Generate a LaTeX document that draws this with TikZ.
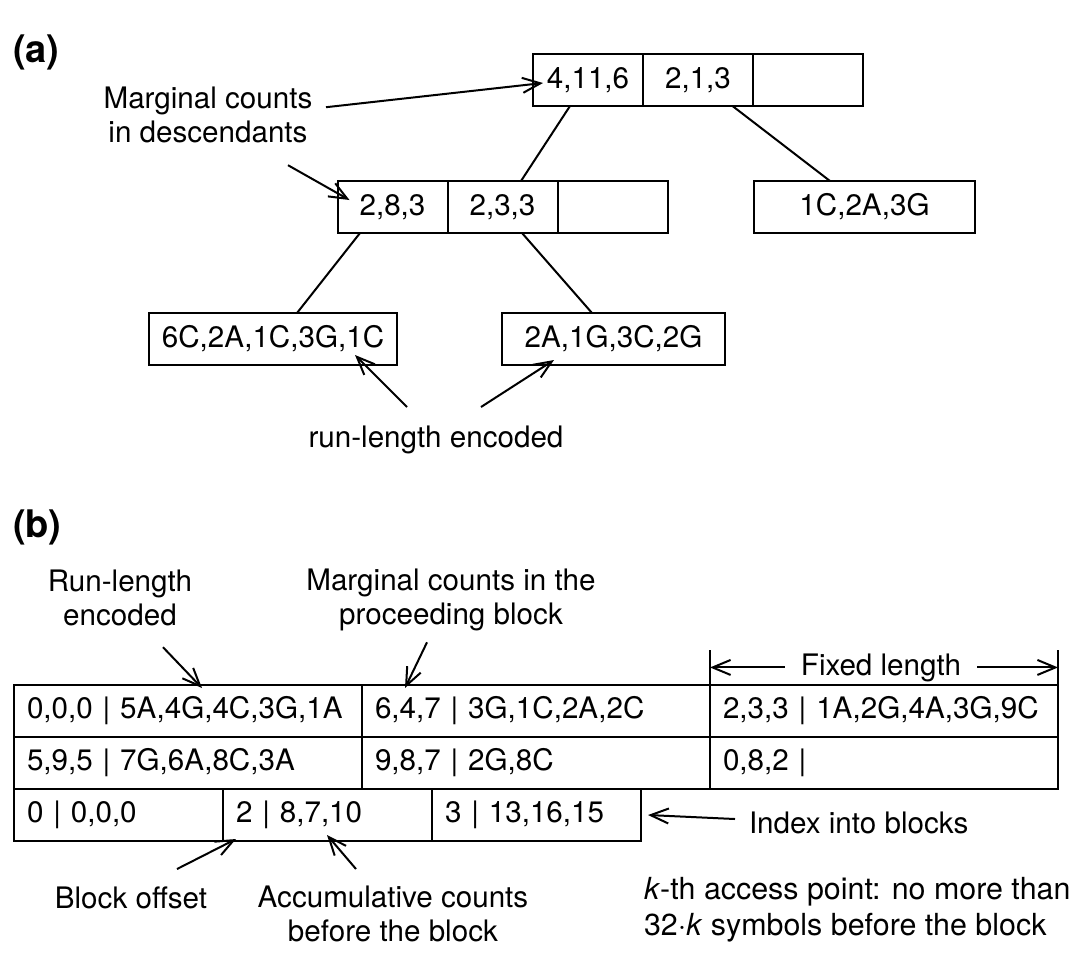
\documentclass[tikz,border=0pt]{standalone}
\usepackage{fontspec}
\setmainfont{TeX Gyre Heros}
\usetikzlibrary{arrows.meta,positioning}

\begin{document}
\begin{tikzpicture}[
    x=0.5pt, y=-0.5pt,
    line width=1pt,
    every node/.style={font=\fontsize{14.8}{17}\selectfont},
    tcell/.style={draw, minimum width=55pt, minimum height=26pt, inner sep=0pt, outer sep=0pt},
    rowcell/.style={draw, anchor=north west, minimum height=26pt, inner xsep=6.5pt, inner ysep=0pt, outer sep=0pt, align=left},
    wide/.style={rowcell, text width=161pt},
    narrow/.style={rowcell, text width=91.5pt},
    lbl/.style={inner sep=0pt, align=center},
    panel/.style={inner sep=0pt, anchor=base west, font=\fontsize{19}{22}\selectfont\bfseries},
    arr/.style={-{Straight Barb[length=9pt,width=7.5pt]}}
]
\useasboundingbox (0,0) rectangle (1080,966);

% (a) tree of blocks
\node[panel] (pa) at (12,62) {(a)};

\node[tcell] (r1) at (588,80) {4,11,6};
\node[tcell, right=0pt of r1] (r2) {2,1,3};
\node[tcell, right=0pt of r2] (r3) {};

\node[tcell] (m1) at (392.5,207) {2,8,3};
\node[tcell, right=0pt of m1] (m2) {2,3,3};
\node[tcell, right=0pt of m2] (m3) {};
\node[tcell, minimum width=110.5pt] (rt) at (864.5,207) {1C,2A,3G};

\node[tcell, minimum width=124pt] (lf1) at (273,339) {6C,2A,1C,3G,1C};
\node[tcell, minimum width=111.5pt] (lf2) at (613.5,339) {2A,1G,3C,2G};

\draw ([shift={(-18,0)}]r1.south) -- ([shift={(18.5,0)}]m2.north);
\draw ([shift={(34.5,0)}]r2.south) -- ([shift={(-34.5,0)}]rt.north);
\draw ([shift={(-32.5,0)}]m1.south) -- ([shift={(24,0)}]lf1.north);
\draw ([shift={(19.5,0)}]m2.south) -- ([shift={(-21.5,0)}]lf2.north);

\node[lbl] (mlab) at (208,115.2) {Marginal counts\\in descendants};
\draw[arr] ([shift={(118,-8)}]mlab.center) -- ([shift={(10,3)}]r1.west);
\draw[arr] ([shift={(80,50)}]mlab.center) -- ([shift={(12,-7)}]m1.west);

\node[lbl, anchor=base] (rle) at (436,447) {run-length encoded};
\draw[arr] ([shift={(-29,-40)}]rle.base) -- ([shift={(-42,-10)}]lf1.south east);
\draw[arr] ([shift={(45,-40)}]rle.base) -- ([shift={(52,-5)}]lf2.south west);

% (b) blocks with access points
\node[panel] (pb) at (12,537) {(b)};

\node[lbl] (rlb) at (120,598.2) {Run-length\\encoded};
\node[lbl] (mcb) at (451,600.3) {Marginal counts in the\\proceeding block};

\node[wide] (b11) at (14,685) {0,0,0 | 5A,4G,4C,3G,1A};
\node[wide, right=0pt of b11] (b12) {6,4,7 | 3G,1C,2A,2C};
\node[wide, right=0pt of b12] (b13) {2,3,3 | 1A,2G,4A,3G,9C};
\node[wide, below=0pt of b11] (b21) {5,9,5 | 7G,6A,8C,3A};
\node[wide, right=0pt of b21] (b22) {9,8,7 | 2G,8C};
\node[wide, right=0pt of b22] (b23) {0,8,2 |};
\node[narrow, anchor=north west] (b31) at (b21.south west) {0 | 0,0,0};
\node[narrow, right=0pt of b31] (b32) {2 | 8,7,10};
\node[narrow, right=0pt of b32] (b33) {3 | 13,16,15};

\draw[arr] ([shift={(43,49)}]rlb.center) -- ([shift={(188,3)}]b11.north west);
\draw[arr] ([shift={(-24,42)}]mcb.center) -- ([shift={(43,3)}]b12.north west);

\node[lbl, anchor=base, inner xsep=7.5pt] (fix) at (881,675) {Fixed length};
\draw ([shift={(0,-35)}]b13.north west) -- (b13.north west);
\draw ([shift={(0,-35)}]b13.north east) -- (b13.north east);
\draw[arr] (fix.west) -- (fix.west -| b13.north west);
\draw[arr] (fix.east) -- (fix.east -| b13.north east);

\node[lbl, anchor=base west] (idx) at (748,833) {Index into blocks};
\draw[arr] ([shift={(-13,-14)}]idx.base west) -- ([shift={(7,0)}]b33.east);

\node[lbl, anchor=base] (bo) at (131,908) {Block offset};
\node[lbl] (acc) at (393,914) {Accumulative counts\\before the block};
\draw[arr] ([shift={(46,-39)}]bo.base) -- ([shift={(13,-2)}]b32.south west);
\draw[arr] ([shift={(-37,-45)}]acc.center) -- ([shift={(104,-6)}]b32.south west);

\node[lbl, align=left, anchor=north west, font=\fontsize{15.2}{18.3}\selectfont] (kth) at (643,876)
    {\textit{k}-th access point: no more than\\32·\textit{k} symbols before the block};
\end{tikzpicture}
\end{document}
